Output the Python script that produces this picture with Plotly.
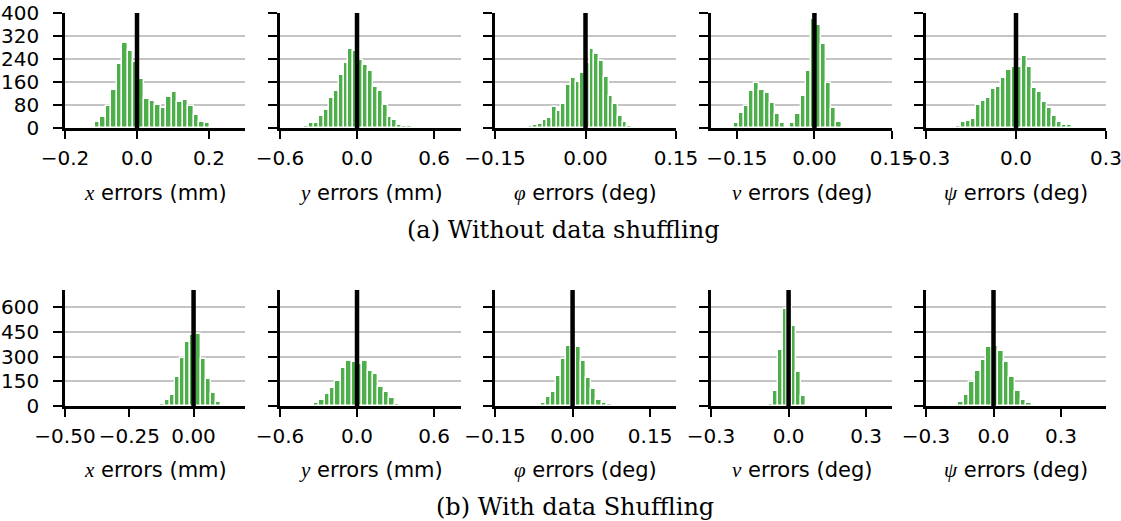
import numpy as np
import plotly.graph_objects as go

# ---------------- data ----------------
# Row (a): without data shuffling
a_x_start, a_x_width = -0.1174, 0.01526
a_x_counts = [20, 38, 75, 132, 224, 296, 269, 230, 169, 101, 94, 81, 70, 109, 125, 92, 99, 75, 44, 21, 19, 2, 1]

a_y_start, a_y_width = -0.4097, 0.0381
a_y_counts = [8, 17, 17, 42, 61, 106, 128, 186, 225, 275, 267, 237, 220, 197, 143, 130, 81, 38, 28, 12, 8, 7]

a_phi_start, a_phi_width = -0.0944, 0.0078
a_phi_counts = [8, 10, 15, 29, 35, 74, 60, 85, 151, 174, 159, 191, 226, 275, 258, 233, 179, 110, 83, 43, 20, 8]

a_nu_start, a_nu_width = -0.1559, 0.00992
a_nu_counts = [16, 53, 77, 128, 155, 131, 122, 87, 49, 17, 0, 16, 48, 112, 199, 380, 359, 291, 155, 70, 22]

a_psi_start, a_psi_width = -0.2006, 0.01689
a_psi_counts = [8, 20, 23, 32, 80, 95, 104, 134, 144, 175, 203, 212, 212, 252, 212, 138, 124, 90, 68, 42, 22, 12, 10]

# Row (b): with data shuffling
b_x_start, b_x_width = -0.1321, 0.0200
b_x_counts = [10, 34, 65, 176, 293, 388, 430, 434, 283, 164, 79, 24, 3]

b_y_start, b_y_width = -0.3778, 0.0419
b_y_counts = [8, 18, 34, 71, 109, 152, 232, 271, 265, 257, 275, 212, 194, 117, 87, 46, 10, 3, 2]

b_phi_start, b_phi_width = -0.0718, 0.00983
b_phi_counts = [6, 16, 57, 87, 180, 287, 364, 370, 360, 275, 170, 101, 36, 20, 10]

b_nu_start, b_nu_width = -0.077, 0.01793
b_nu_counts = [14, 93, 337, 586, 670, 487, 206, 63, 8]

b_psi_start, b_psi_width = -0.1837, 0.0254
b_psi_counts = [6, 22, 69, 145, 214, 281, 358, 366, 331, 269, 174, 93, 38, 16]

# axes
a_xranges = [[-0.2, 0.3], [-0.6, 0.81], [-0.15, 0.15], [-0.2, 0.15], [-0.3, 0.3]]
a_xticks = [[-0.2, 0.0, 0.2], [-0.6, 0.0, 0.6], [-0.15, 0.0, 0.15], [-0.15, 0.0, 0.15], [-0.3, 0.0, 0.3]]
a_xticktext = [["−0.2", "0.0", "0.2"], ["−0.6", "0.0", "0.6"], ["−0.15", "0.00", "0.15"],
               ["−0.15", "0.00", "0.15"], ["−0.3", "0.0", "0.3"]]
b_xranges = [[-0.5, 0.2], [-0.6, 0.81], [-0.15, 0.2], [-0.3, 0.4], [-0.3, 0.5]]
b_xticks = [[-0.5, -0.25, 0.0], [-0.6, 0.0, 0.6], [-0.15, 0.0, 0.15], [-0.3, 0.0, 0.3], [-0.3, 0.0, 0.3]]
b_xticktext = [["−0.50", "−0.25", "0.00"], ["−0.6", "0.0", "0.6"], ["−0.15", "0.00", "0.15"],
               ["−0.3", "0.0", "0.3"], ["−0.3", "0.0", "0.3"]]
a_yrange, a_yticks = [0, 400], [0, 80, 160, 240, 320, 400]
b_yrange, b_yticks = [0, 703], [0, 150, 300, 450, 600]

var_labels = ["x", "y", "φ", "ν", "ψ"]
var_units = ["mm", "mm", "deg", "deg", "deg"]
captions = ["(a) Without data shuffling", "(b) With data Shuffling"]

# ---------------- figure ----------------
W, H = 1121, 521
GREEN = "#4daf4a"
col_px = [(65, 245), (280, 461), (495, 676), (711, 892), (926, 1106)]
row_px = [(13, 128), (290, 406)]

rows = [
    dict(starts=[a_x_start, a_y_start, a_phi_start, a_nu_start, a_psi_start],
         widths=[a_x_width, a_y_width, a_phi_width, a_nu_width, a_psi_width],
         counts=[a_x_counts, a_y_counts, a_phi_counts, a_nu_counts, a_psi_counts],
         xr=a_xranges, xt=a_xticks, xtt=a_xticktext, yr=a_yrange, yt=a_yticks),
    dict(starts=[b_x_start, b_y_start, b_phi_start, b_nu_start, b_psi_start],
         widths=[b_x_width, b_y_width, b_phi_width, b_nu_width, b_psi_width],
         counts=[b_x_counts, b_y_counts, b_phi_counts, b_nu_counts, b_psi_counts],
         xr=b_xranges, xt=b_xticks, xtt=b_xticktext, yr=b_yrange, yt=b_yticks),
]

fig = go.Figure()
layout = dict(width=W, height=H, margin=dict(l=0, r=0, t=0, b=0, autoexpand=False),
              paper_bgcolor="white", plot_bgcolor="white", showlegend=False,
              bargap=0, font=dict(family="DejaVu Sans", size=20, color="black"))
annotations = []
shapes = []
tickfont = dict(family="DejaVu Sans", size=20, color="black")

n = 0
for r, row in enumerate(rows):
    y0p, y1p = row_px[r]
    ydom = [1 - y1p / H, 1 - y0p / H]
    for c in range(5):
        n += 1
        xa = "x" if n == 1 else f"x{n}"
        ya = "y" if n == 1 else f"y{n}"
        cnt = np.array(row["counts"][c], dtype=float)
        w = row["widths"][c]
        centers = row["starts"][c] + w * (np.arange(len(cnt)) + 0.5)
        fig.add_trace(go.Bar(x=centers, y=cnt, width=w, xaxis=xa, yaxis=ya,
                             marker=dict(color=GREEN, line=dict(color="white", width=1.4))))
        x0p, x1p = col_px[c]
        layout[f"xaxis{n}"] = dict(
            domain=[x0p / W, x1p / W], anchor=ya, range=row["xr"][c], automargin=False,
            tickmode="array", tickvals=row["xt"][c], ticktext=row["xtt"][c],
            showline=True, linecolor="black", linewidth=2.5, ticks="outside",
            ticklen=8, tickwidth=1.5, tickcolor="black", showgrid=False,
            zeroline=False, tickfont=tickfont, ticklabelstandoff=2,
            ticklabeloverflow="allow")
        layout[f"yaxis{n}"] = dict(
            domain=ydom, anchor=xa, range=row["yr"], tickmode="array", automargin=False,
            tickvals=row["yt"], showticklabels=(c == 0),
            showline=True, linecolor="black", linewidth=2.5, ticks="outside",
            ticklen=9, tickwidth=1.5, tickcolor="black", showgrid=True,
            gridcolor="#c4c4c4", gridwidth=1.5, zeroline=False, tickfont=tickfont,
            ticklabelstandoff=10, ticklabeloverflow="allow")
        shapes.append(dict(type="line", xref=xa, yref=f"{ya} domain", x0=0, x1=0, y0=0, y1=1,
                           line=dict(color="black", width=4.5), layer="above"))
        title_y = 193 if r == 0 else 470
        annotations.append(dict(
            xref="paper", yref="paper", x=(x0p + x1p) / 2 / W, y=1 - title_y / H,
            xanchor="center", yanchor="middle", showarrow=False,
            text=f"<span style='font-family:Liberation Serif'><i>{var_labels[c]}</i></span> errors ({var_units[c]})",
            font=dict(family="DejaVu Sans", size=21, color="black")))

cap_pos = [(563, 230), (575, 507)]
for r in range(2):
    annotations.append(dict(xref="paper", yref="paper", x=cap_pos[r][0] / W, y=1 - cap_pos[r][1] / H,
                            xanchor="center", yanchor="middle", showarrow=False, text=captions[r],
                            font=dict(family="DejaVu Serif", size=24, color="black")))

layout["annotations"] = annotations
layout["shapes"] = shapes
fig.update_layout(**layout)
fig.write_html("out.html")
